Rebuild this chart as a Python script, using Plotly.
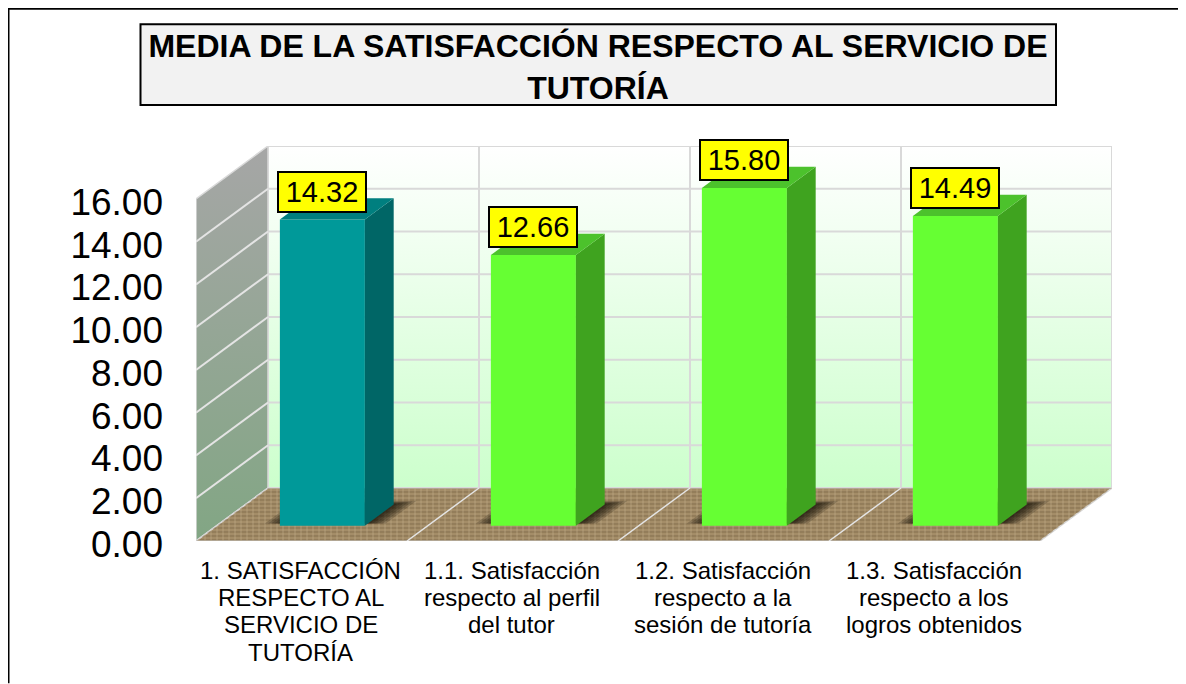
import plotly.graph_objects as go

TITLE = "MEDIA DE LA SATISFACCIÓN RESPECTO AL SERVICIO DE<br>TUTORÍA"
categories = [["1. SATISFACCIÓN", "RESPECTO AL", "SERVICIO DE", "TUTORÍA"],
              ["1.1. Satisfacción", "respecto al perfil", "del tutor"],
              ["1.2. Satisfacción", "respecto a la", "sesión de tutoría"],
              ["1.3. Satisfacción", "respecto a los", "logros obtenidos"]]
values = [14.32, 12.66, 15.80, 14.49]
y_ticks = [0, 2, 4, 6, 8, 10, 12, 14, 16]

FRONT = ["#009999", "#66FF33", "#66FF33", "#66FF33"]
SIDE = ["#006666", "#3FA31F", "#3FA31F", "#3FA31F"]
TOP = ["#007F7F", "#4CC22C", "#4CC22C", "#4CC22C"]

OFF = 8                                  # page margin around the figure
W, H = 1186 - OFF, 684 - OFF
L, R, T, B = 196 - OFF, 74, 146 - OFF, 142.5
plot_w, plot_h = W - L - R, H - T - B
YMAX = 16
PX_Y = 342 / YMAX                        # pixels per unit on the value axis
PX_X = (1040 - 196) / 4                  # pixels per category
DX, DY = 72 / PX_X, 53 / PX_Y            # full-depth offset in axis units
BAR_W = 85 / PX_X
D0, D1 = 0.29, 0.69                      # bar depth span on the floor
X_MIN, X_MAX = -0.5, 3.5


def pr(x, v, d):
    return x + d * DX, v + d * DY


def poly(points):
    pts = [pr(*p) for p in points]
    pts.append(pts[0])
    return [p[0] for p in pts], [p[1] for p in pts]


def fx(px):
    return (px - OFF - L) / plot_w


def fy(py):
    return (H - B - (py - OFF)) / plot_h


fig = go.Figure()
COMMON = dict(mode="lines", hoverinfo="skip", showlegend=False)

# back wall
x, y = poly([(X_MIN, 0, 1), (X_MAX, 0, 1), (X_MAX, YMAX, 1), (X_MIN, YMAX, 1)])
fig.add_trace(go.Scatter(x=x, y=y, fill="toself", line=dict(color="#D9D9D9", width=2),
                         fillgradient=dict(type="vertical", colorscale=[[0, "#CCFFCC"], [1, "#FFFFFF"]]), **COMMON))
# side wall
x, y = poly([(X_MIN, 0, 0), (X_MIN, 0, 1), (X_MIN, YMAX, 1), (X_MIN, YMAX, 0)])
fig.add_trace(go.Scatter(x=x, y=y, fill="toself", line=dict(color="#D9D9D9", width=1.5),
                         fillgradient=dict(type="vertical", colorscale=[[0, "#82A684"], [1, "#A6A6A6"]]), **COMMON))
# floor
x, y = poly([(X_MIN, 0, 0), (X_MAX, 0, 0), (X_MAX, 0, 1), (X_MIN, 0, 1)])
fig.add_trace(go.Scatter(x=x, y=y, fill="toself", fillcolor="#A48D68",
                         line=dict(color="#D9D9D9", width=1.5), **COMMON))
fig.add_trace(go.Scatter(x=x, y=y, fill="toself", line=dict(width=0),
                         fillcolor="rgba(0,0,0,0)",
                         fillpattern=dict(shape="-", size=4, solidity=0.3, fgcolor="#6E5839",
                                          bgcolor="rgba(0,0,0,0)"), **COMMON))
fig.add_trace(go.Scatter(x=x, y=y, fill="toself", line=dict(width=0),
                         fillcolor="rgba(0,0,0,0)",
                         fillpattern=dict(shape="|", size=6, solidity=0.2, fgcolor="#C2AE89",
                                          bgcolor="rgba(0,0,0,0)"), **COMMON))

# horizontal grid on the back and side walls
for t in y_ticks[1:-1]:
    x, y = zip(pr(X_MIN, t, 1), pr(X_MAX, t, 1))
    fig.add_trace(go.Scatter(x=x, y=y, line=dict(color="#D9D9D9", width=2), **COMMON))
    x, y = zip(pr(X_MIN, t, 0), pr(X_MIN, t, 1))
    fig.add_trace(go.Scatter(x=x, y=y, line=dict(color="#E4E4E4", width=2), **COMMON))
# vertical grid on the back wall and the floor
for b in range(1, 4):
    xb = X_MIN + b
    x, y = zip(pr(xb, 0, 1), pr(xb, YMAX, 1))
    fig.add_trace(go.Scatter(x=x, y=y, line=dict(color="#D9D9D9", width=2), **COMMON))
    x, y = zip(pr(xb, 0, 0), pr(xb, 0, 1))
    fig.add_trace(go.Scatter(x=x, y=y, line=dict(color="#E4E4E4", width=1.5), **COMMON))

# soft shadows on the floor
xs = list(range(len(values)))
for i in xs:
    for g in (0.085, 0.07, 0.055, 0.04, 0.025, 0.012):
        x, y = poly([(i - BAR_W / 2 - g, 0, D0 + 0.04), (i + BAR_W / 2 + g, 0, D0 + 0.04),
                     (i + BAR_W / 2 + g, 0, D1 + g * 0.8), (i - BAR_W / 2 - g, 0, D1 + g * 0.8)])
        fig.add_trace(go.Scatter(x=x, y=y, fill="toself", fillcolor="rgba(20,15,5,0.2)",
                                 line=dict(width=0), **COMMON))

# the bars, on overlaid axes so they sit above the walls
bx = [i + D0 * DX for i in xs]
bz = [D0 * DY] * len(values)
fig.add_trace(go.Bar(x=bx, y=values, base=bz, width=BAR_W, marker=dict(color=FRONT, line=dict(width=0)),
                     hoverinfo="skip", showlegend=False, xaxis="x2", yaxis="y2"))
for i, v in zip(xs, values):
    xr = i + BAR_W / 2
    xl = i - BAR_W / 2
    x, y = poly([(xr, 0, D0), (xr, 0, D1), (xr, v, D1), (xr, v, D0)])
    fig.add_trace(go.Scatter(x=x, y=y, fill="toself", fillcolor=SIDE[i], line=dict(width=0),
                             xaxis="x2", yaxis="y2", **COMMON))
    x, y = poly([(xl, v, D0), (xr, v, D0), (xr, v, D1), (xl, v, D1)])
    fig.add_trace(go.Scatter(x=x, y=y, fill="toself", fillcolor=TOP[i], line=dict(width=0),
                             xaxis="x2", yaxis="y2", **COMMON))

annotations = []
# data labels
for i, v in zip(xs, values):
    lx, ly = pr(i, v, D0)
    annotations.append(dict(x=lx, y=ly, xref="x2", yref="y2", text=f"{v:.2f}", showarrow=False,
                            yshift=28, width=82, height=34, bgcolor="#FFFF00", bordercolor="#000000",
                            borderwidth=2, borderpad=2,
                            font=dict(family="Liberation Sans", size=29, color="#000000")))
# category labels, one line at a time for the tighter line spacing of the reference
LINE_Y = [571, 598.3, 625.6, 653]
for i, lines in zip(xs, categories):
    for line, py in zip(lines, LINE_Y):
        annotations.append(dict(x=i, y=fy(py), xref="x", yref="paper", text=line, showarrow=False,
                                xanchor="center", yanchor="middle", xshift=-1,
                                font=dict(family="Liberation Sans", size=24, color="#000000")))

shapes = [
    dict(type="line", xref="paper", yref="paper", x0=fx(8), x1=fx(1186), y0=fy(8.5), y1=fy(8.5),
         line=dict(color="#000000", width=2)),
    dict(type="line", xref="paper", yref="paper", x0=fx(8.5), x1=fx(8.5), y0=fy(8), y1=fy(684),
         line=dict(color="#000000", width=2)),
    dict(type="rect", xref="paper", yref="paper", x0=fx(140.5), x1=fx(1056), y0=fy(24), y1=fy(105),
         fillcolor="#F2F2F2", line=dict(color="#000000", width=2), layer="below"),
]

axis_common = dict(range=[X_MIN, X_MAX + DX], showgrid=False, zeroline=False, showline=False)
yaxis_common = dict(range=[0, YMAX + DY], showgrid=False, zeroline=False, showline=False)

fig.update_layout(
    width=W, height=H, autosize=False,
    margin=dict(l=L, r=R, t=T, b=B, pad=0),
    paper_bgcolor="#FFFFFF", plot_bgcolor="rgba(0,0,0,0)",
    font=dict(family="Liberation Sans", color="#000000"),
    title=dict(text="<b>" + TITLE + "</b>", x=(598 - OFF) / W, xanchor="center", xref="container",
               y=1 - 49 / H, yanchor="middle", yref="container",
               font=dict(family="Liberation Sans", size=32, color="#000000")),
    xaxis=dict(tickmode="array", tickvals=xs, showticklabels=False, ticks="", **axis_common),
    yaxis=dict(tickmode="array", tickvals=y_ticks, ticktext=[f"{t:.2f}" for t in y_ticks], ticks="",
               tickfont=dict(size=37), ticklabelstandoff=32, ticklabelshift=3, **yaxis_common),
    xaxis2=dict(overlaying="x", anchor="y2", visible=False, **axis_common),
    yaxis2=dict(overlaying="y", anchor="x2", visible=False, **yaxis_common),
    annotations=annotations, shapes=shapes,
)
fig.write_html("out.html")
